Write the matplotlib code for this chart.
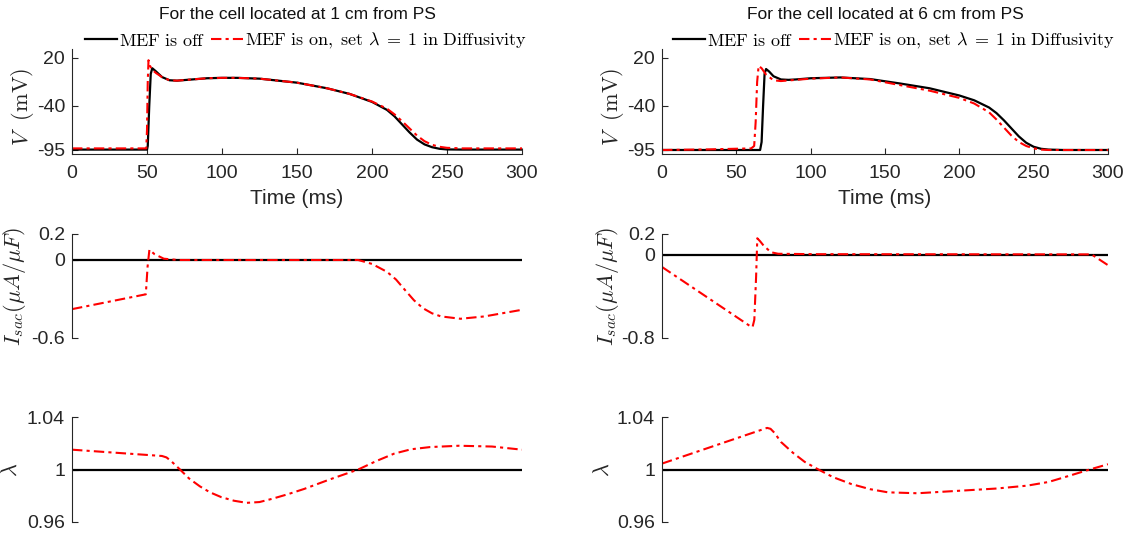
import matplotlib
matplotlib.use("Agg")
import matplotlib.pyplot as plt

plt.rcParams['font.family'] = ['Liberation Sans', 'DejaVu Sans']
plt.rcParams['mathtext.fontset'] = 'cm'
plt.rcParams['axes.unicode_minus'] = False

# ---- data ----
titles = ['For the cell located at 1 cm from PS', 'For the cell located at 6 cm from PS']

# cell at 1 cm, membrane potential
t_v1_off = [0, 50, 50.5, 51.5, 52.5, 53.5, 56, 60, 65, 70, 80, 90, 100, 110, 125, 150, 170, 185,
            200, 210, 215, 220, 225, 230, 235, 240, 245, 250, 260, 300]
v1_off = [-94.5, -94.5, -90, -40, 0, 7, 3, -4, -8, -8.5, -7, -5.5, -5, -5, -6, -11, -18, -25,
          -35, -45, -53, -63, -73, -82, -88, -91.5, -93.5, -94.3, -94.5, -94.5]
t_v1_on = [0, 49.5, 50, 50.5, 51, 52, 53.5, 56, 60, 65, 70, 80, 90, 100, 110, 125, 150, 170, 185,
           200, 210, 215, 220, 225, 230, 235, 240, 245, 250, 260, 300]
v1_on = [-93, -93, -70, -10, 17, 10, 5, 1, -4, -8, -8.5, -7, -5.5, -5, -5, -6, -11, -18, -25,
         -34.5, -43.5, -50.5, -59, -68, -77, -84, -88.5, -91, -92.3, -93, -93]

# cell at 6 cm, membrane potential
t_v6_off = [0, 66, 67, 68, 69, 70, 72, 75, 80, 85, 90, 100, 120, 140, 160, 180, 200, 210, 220,
            225, 230, 235, 240, 245, 250, 255, 260, 270, 300]
v6_off = [-95, -95, -85, -40, 0, 6, 3, -3, -7, -7.5, -7, -5.5, -4.5, -6.5, -12, -18, -27, -33, -42,
          -49, -58, -68, -78, -86, -91, -93.5, -94.5, -95, -95]
t_v6_on = [0, 30, 60, 62, 63, 64, 65, 67, 70, 75, 80, 90, 100, 120, 140, 160, 180, 200, 210, 220,
           225, 230, 235, 240, 245, 250, 255, 260, 270, 300]
v6_on = [-95, -94.3, -93, -90, -60, -10, 10, 7, -1, -8, -9, -7.5, -6, -4.5, -7, -14, -21, -30, -37, -48,
         -57, -67, -77, -85, -90, -93, -94.5, -95, -95, -95]

# stretch activated current
t_i_off = [0, 300]
i_off = [0, 0]
t_i1_on = [0, 49.2, 50.4, 51.6, 55, 61.2, 70.8, 190.8, 200, 210, 216, 222, 228, 234, 240, 246, 259,
           275, 300]
i1_on = [-0.378, -0.264, -0.05, 0.079, 0.045, 0.01, 0.0, 0.0, -0.03, -0.091, -0.15, -0.231, -0.31,
         -0.371, -0.41, -0.434, -0.452, -0.434, -0.383]
t_i6_on = [0, 59.6, 60.9, 62.1, 63.3, 64.1, 66, 68.3, 73.2, 78.1, 102.8, 288.9, 300]
i6_on = [-0.117, -0.689, -0.695, -0.625, -0.21, 0.159, 0.13, 0.089, 0.025, 0.01, 0.006, 0.004, -0.10]

# stretch ratio
t_l_off = [0, 300]
l_off = [1, 1]
t_l1_on = [0, 60, 63, 66, 72, 78, 85.2, 92, 99.6, 108, 116.4, 125, 133.2, 144, 154.8, 172, 190.8,
           203, 214.8, 226, 238.8, 258, 280, 300]
l1_on = [1.0151, 1.0103, 1.0092, 1.0065, 1.0, 0.9932, 0.9872, 0.9826, 0.9789, 0.9762, 0.9746,
         0.9752, 0.9776, 0.9812, 0.9852, 0.9925, 1.0, 1.0065, 1.0121, 1.0154, 1.0171, 1.0181,
         1.0175, 1.0151]
t_l6_on = [0, 70.7, 73, 75.7, 80, 88, 96, 105.2, 115, 127.4, 140, 152, 171.8, 201.4, 225, 245.7,
           260, 270.4, 287.7, 300]
l6_on = [1.0045, 1.0317, 1.031, 1.0279, 1.021, 1.0128, 1.0058, 1.0, 0.9942, 0.9889, 0.985, 0.9826,
         0.9819, 0.9839, 0.9855, 0.9877, 0.9905, 0.994, 1.0, 1.004]

v_ticks = [-95, -40, 20]
i_ticks = [[-0.6, 0, 0.2], [-0.8, 0, 0.2]]
i_ticklabels = [['-0.6', '0', '0.2'], ['-0.8', '0', '0.2']]
l_ticks = [0.96, 1, 1.04]
l_ticklabels = ['0.96', '1', '1.04']
x_ticks = [0, 50, 100, 150, 200, 250, 300]

W, H = 1134, 540
fig = plt.figure(figsize=(W / 100, H / 100), dpi=100)

def px_axes(x0, y0, x1, y1):
    return fig.add_axes([x0 / W, 1 - y1 / H, (x1 - x0) / W, (y1 - y0) / H])

gray = '#262626'
red_style = dict(color='red', linestyle=(0, (5, 2, 1.5, 2)), linewidth=1.5)
blk_style = dict(color='black', linestyle='-', linewidth=1.6)

col_x = [(72, 522), (662, 1108)]
rows_y = [(49, 154), (234, 338), (417, 522)]

v_data = [(t_v1_off, v1_off, t_v1_on, v1_on), (t_v6_off, v6_off, t_v6_on, v6_on)]
i_data = [(t_i1_on, i1_on), (t_i6_on, i6_on)]
l_data = [(t_l1_on, l1_on), (t_l6_on, l6_on)]
ylab_x = [(-0.08, -0.098, -0.111), (-0.08, -0.093, -0.109)]

def style(ax, show_x):
    for s in ['top', 'right']:
        ax.spines[s].set_visible(False)
    for s in ['left', 'bottom']:
        ax.spines[s].set_color(gray)
        ax.spines[s].set_linewidth(0.8)
    ax.tick_params(direction='in', length=4, width=0.8, colors=gray, labelsize=14,
                   labelcolor=gray)
    ax.tick_params(axis='y', pad=5)
    ax.tick_params(axis='x', pad=8)
    if not show_x:
        ax.spines['bottom'].set_visible(False)
        ax.set_xticks([])
    ax.set_xlim(0, 300)

for c in range(2):
    x0, x1 = col_x[c]

    # membrane potential
    ax = px_axes(x0, rows_y[0][0], x1, rows_y[0][1])
    style(ax, True)
    toff, voff, ton, von = v_data[c]
    ax.plot(toff, voff, label=r'$\mathrm{MEF\ is\ off}$', **blk_style)
    ax.plot(ton, von,
            label=r'$\mathrm{MEF\ is\ on,\ set\ }\lambda\;=\;1\mathrm{\ in\ Diffusivity}$',
            **red_style)
    ax.set_ylim(-100, 31)
    ax.set_yticks(v_ticks)
    ax.set_xticks(x_ticks)
    ax.set_xlabel('Time (ms)', fontsize=15, color=gray, labelpad=5)
    ax.set_ylabel(r'$V\ \ \mathrm{(mV)}$', fontsize=16, color=gray)
    ax.yaxis.set_label_coords(ylab_x[c][0], 0.45)
    ax.legend(loc='center', bbox_to_anchor=(0.52, 1.075), ncol=2, frameon=False, fontsize=13,
              handlelength=1.8, handletextpad=0.1, columnspacing=0.3, borderpad=0)
    ax.text(0.5, 1.33, titles[c], transform=ax.transAxes, ha='center', va='center',
            fontsize=12.5, color='#111111')

    # stretch activated current
    ax = px_axes(x0, rows_y[1][0], x1, rows_y[1][1])
    style(ax, False)
    ax.plot(t_i_off, i_off, **blk_style)
    ax.plot(i_data[c][0], i_data[c][1], **red_style)
    ax.set_ylim(i_ticks[c][0], 0.2)
    ax.set_yticks(i_ticks[c])
    ax.set_yticklabels(i_ticklabels[c])
    ax.set_ylabel(r'$I_{sac}(\mu A/\mu F)$', fontsize=16, color=gray)
    ax.yaxis.set_label_coords(ylab_x[c][1], 0.5)

    # stretch ratio
    ax = px_axes(x0, rows_y[2][0], x1, rows_y[2][1])
    style(ax, False)
    ax.plot(t_l_off, l_off, **blk_style)
    ax.plot(l_data[c][0], l_data[c][1], **red_style)
    ax.set_ylim(0.96, 1.04)
    ax.set_yticks(l_ticks)
    ax.set_yticklabels(l_ticklabels)
    ax.set_ylabel(r'$\lambda$', fontsize=16, color=gray)
    ax.yaxis.set_label_coords(ylab_x[c][2], 0.5)

fig.savefig('out.png', dpi=100)
